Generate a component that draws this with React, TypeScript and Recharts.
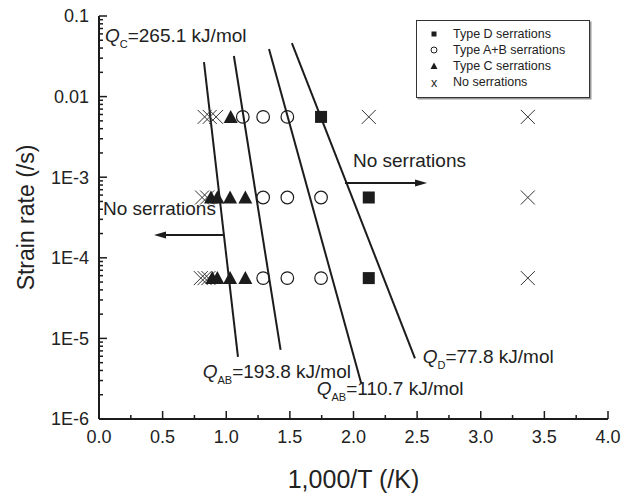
import { ScatterChart, Scatter, XAxis, YAxis, ReferenceLine, ReferenceDot, Legend } from 'recharts'

const FONT = '"Liberation Sans", Arial, Helvetica, sans-serif'
const INK = '#1c1c1c'

// tick marks
const xMajor = [0, 0.5, 1, 1.5, 2, 2.5, 3, 3.5, 4]
const xLabels = ['0.0', '0.5', '1.0', '1.5', '2.0', '2.5', '3.0', '3.5', '4.0']
const xMinor = [0.25, 0.75, 1.25, 1.75, 2.25, 2.75, 3.25, 3.75]
const yMajor = [1e-6, 1e-5, 1e-4, 1e-3, 1e-2, 1e-1]
const yLabels = ['1E-6', '1E-5', '1E-4', '1E-3', '0.01', '0.1']

// measured points: x = 1000/T, y = strain rate
const typeD = [
  { x: 1.745, y: 5.6e-3 },
  { x: 2.12, y: 5.6e-4 },
  { x: 2.12, y: 5.6e-5 },
]
const typeAB = [
  { x: 1.13, y: 5.6e-3 }, { x: 1.29, y: 5.6e-3 }, { x: 1.48, y: 5.6e-3 },
  { x: 1.29, y: 5.6e-4 }, { x: 1.48, y: 5.6e-4 }, { x: 1.745, y: 5.6e-4 },
  { x: 1.29, y: 5.6e-5 }, { x: 1.48, y: 5.6e-5 }, { x: 1.745, y: 5.6e-5 },
]
const typeC = [
  { x: 1.035, y: 5.6e-3 },
  { x: 0.88, y: 5.6e-4 }, { x: 0.93, y: 5.6e-4 }, { x: 1.03, y: 5.6e-4 }, { x: 1.15, y: 5.6e-4 },
  { x: 0.89, y: 5.6e-5 }, { x: 0.93, y: 5.6e-5 }, { x: 1.03, y: 5.6e-5 }, { x: 1.15, y: 5.6e-5 },
]
const noSerr = [
  { x: 0.83, y: 5.6e-3 }, { x: 0.87, y: 5.6e-3 }, { x: 0.92, y: 5.6e-3 },
  { x: 2.12, y: 5.6e-3 }, { x: 3.37, y: 5.6e-3 },
  { x: 0.81, y: 5.6e-4 }, { x: 0.85, y: 5.6e-4 }, { x: 3.37, y: 5.6e-4 },
  { x: 0.8, y: 5.6e-5 }, { x: 0.83, y: 5.6e-5 }, { x: 0.86, y: 5.6e-5 }, { x: 3.37, y: 5.6e-5 },
]

// Arrhenius boundaries
const qLines = [
  [{ x: 0.825, y: 2.68e-2 }, { x: 1.092, y: 5.9e-6 }],
  [{ x: 1.06, y: 3.19e-2 }, { x: 1.427, y: 7.2e-6 }],
  [{ x: 1.336, y: 3.89e-2 }, { x: 2.06, y: 2.8e-6 }],
  [{ x: 1.516, y: 4.62e-2 }, { x: 2.483, y: 5.66e-6 }],
]
const qLabels = [
  { x: 0.047, y: 4.76e-2, sub: 'C', text: '=265.1 kJ/mol' },
  { x: 0.815, y: 3.23e-6, sub: 'AB', text: '=193.8 kJ/mol' },
  { x: 1.711, y: 1.99e-6, sub: 'AB', text: '=110.7 kJ/mol' },
  { x: 2.544, y: 4.95e-6, sub: 'D', text: '=77.8 kJ/mol' },
]
const arrows = [
  { y: 8.47e-4, from: 1.933, to: 2.578 },
  { y: 1.92e-4, from: 0.974, to: 0.432 },
]
const regionLabels = [
  { x: 1.996, y: 1.34e-3, text: 'No serrations' },
  { x: 0.031, y: 3.4e-4, text: 'No serrations' },
]
const legendItems = [
  { key: 'D', label: 'Type D serrations' },
  { key: 'AB', label: 'Type A+B serrations' },
  { key: 'C', label: 'Type C serrations' },
  { key: 'none', label: 'No serrations' },
]

const xTicks = [...xMajor, ...xMinor].sort((a, b) => a - b)
const yTicks: number[] = []
yMajor.forEach((d, i) => {
  yTicks.push(d)
  if (i < yMajor.length - 1) for (let k = 2; k <= 9; k++) yTicks.push(d * k)
})

const isMajorY = (v: number) => {
  const l = Math.log10(v)
  return Math.abs(l - Math.round(l)) < 1e-9
}
const yLabel = (v: number) => yLabels[yMajor.findIndex((m) => Math.abs(Math.log10(m) - Math.log10(v)) < 1e-9)]
const xLabel = (v: number) => xLabels[xMajor.findIndex((m) => Math.abs(m - v) < 1e-9)]

function BottomTick({ x, y, payload }: any) {
  const lbl = xLabel(payload.value)
  return (
    <g>
      <line x1={x} y1={y} x2={x} y2={y - (lbl ? 8 : 4)} stroke={INK} strokeWidth={1.5} />
      {lbl && (
        <text x={x} y={y + 24} textAnchor="middle" fontSize={18} fill="#222" fontFamily={FONT}>
          {lbl}
        </text>
      )}
    </g>
  )
}

function TopTick({ x, y, payload }: any) {
  const major = xLabel(payload.value) != null
  return <line x1={x} y1={y} x2={x} y2={y + (major ? 4 : 2)} stroke={INK} strokeWidth={1} />
}

function LeftTick({ x, y, payload }: any) {
  const major = isMajorY(payload.value)
  return (
    <g>
      <line x1={x} y1={y} x2={x + (major ? 8 : 4)} y2={y} stroke={INK} strokeWidth={1.5} />
      {major && (
        <text x={x - 10} y={y} dy="0.36em" textAnchor="end" fontSize={18} fill="#222" fontFamily={FONT}>
          {yLabel(payload.value)}
        </text>
      )}
    </g>
  )
}

function RightTick({ x, y, payload }: any) {
  const major = isMajorY(payload.value)
  return <line x1={x} y1={y} x2={x + (major ? 4 : 3)} y2={y} stroke={INK} strokeWidth={1} />
}

const Square = ({ cx, cy }: any) => <rect x={cx - 6} y={cy - 6} width={12} height={12} fill={INK} />
const Ring = ({ cx, cy }: any) => <circle cx={cx} cy={cy} r={6.3} fill="none" stroke={INK} strokeWidth={1.2} />
const Tri = ({ cx, cy }: any) => (
  <polygon points={`${cx - 7},${cy + 6} ${cx + 7},${cy + 6} ${cx},${cy - 7}`} fill={INK} />
)
const Cross = ({ cx, cy }: any) => (
  <g stroke="#333" strokeWidth={1}>
    <line x1={cx - 7} y1={cy - 7} x2={cx + 7} y2={cy + 7} />
    <line x1={cx - 7} y1={cy + 7} x2={cx + 7} y2={cy - 7} />
  </g>
)

const Arrow = ({ x1, y1, x2, y2 }: any) => {
  const dir = x2 > x1 ? 1 : -1
  return (
    <g>
      <line x1={x1} y1={y1} x2={x2 - dir * 8} y2={y2} stroke={INK} strokeWidth={2} />
      <polygon points={`${x2},${y2} ${x2 - dir * 12},${y2 - 3.5} ${x2 - dir * 12},${y2 + 3.5}`} fill={INK} />
    </g>
  )
}

function LegendMarker({ kind }: { kind: string }) {
  if (kind === 'none')
    return (
      <text x={7} y={8} dy="0.36em" textAnchor="middle" fontSize={12.5} fontFamily={FONT} fill="#222">
        x
      </text>
    )
  return (
    <svg width={14} height={16} style={{ display: 'block' }}>
      {kind === 'D' && <rect x={4.5} y={5.5} width={5} height={5} fill={INK} />}
      {kind === 'AB' && <circle cx={7} cy={8} r={3} fill="none" stroke={INK} strokeWidth={1} />}
      {kind === 'C' && <polygon points="3.5,11 10.5,11 7,4.5" fill={INK} />}
    </svg>
  )
}

function LegendBox() {
  return (
    <div
      style={{
        width: 172,
        height: 71,
        border: '1px solid #333',
        boxShadow: '1.5px 1.5px 0 #999',
        background: '#fff',
        paddingTop: 5,
        boxSizing: 'content-box',
        fontFamily: FONT,
        fontSize: 12.5,
        color: '#222',
      }}
    >
      {legendItems.map((it) => (
        <div key={it.key} style={{ display: 'flex', alignItems: 'center', height: 16 }}>
          <div style={{ width: 14, marginLeft: 10, marginRight: 12 }}>
            {it.key === 'none' ? (
              <svg width={14} height={16} style={{ display: 'block' }}>
                <LegendMarker kind="none" />
              </svg>
            ) : (
              <LegendMarker kind={it.key} />
            )}
          </div>
          <span style={{ lineHeight: '16px' }}>{it.label}</span>
        </div>
      ))}
    </div>
  )
}

function QText({ cx, cy, sub, text }: any) {
  return (
    <text x={cx} y={cy} fontSize={19} fill="#222" fontFamily={FONT}>
      <tspan fontStyle="italic">Q</tspan>
      <tspan fontSize={11} dy={6}>{sub}</tspan>
      <tspan dy={-6}>{text}</tspan>
    </text>
  )
}

export default function App() {
  return (
    <div style={{ position: 'absolute', left: 0, top: 0, width: 622, height: 496, background: '#fff' }}>
      <ScatterChart width={622} height={496} margin={{ top: 16, right: 14, bottom: 0, left: 0 }}>
        <XAxis
          dataKey="x"
          type="number"
          domain={[0, 4]}
          ticks={xTicks}
          interval={0}
          allowDataOverflow
          height={77}
          tickSize={0}
          tickMargin={0}
          tickLine={false}
          axisLine={{ stroke: INK, strokeWidth: 2 }}
          tick={<BottomTick />}
          label={{
            content: ({ viewBox }: any) => (
              <text
                x={viewBox.x + viewBox.width / 2}
                y={viewBox.y + 69}
                textAnchor="middle"
                fontSize={25}
                fill="#222"
                fontFamily={FONT}
              >
                1,000/T (/K)
              </text>
            ),
          }}
        />
        <XAxis
          xAxisId="t"
          orientation="top"
          dataKey="x"
          type="number"
          domain={[0, 4]}
          ticks={xTicks}
          interval={0}
          allowDataOverflow
          height={0}
          tickSize={0}
          tickMargin={0}
          tickLine={false}
          axisLine={{ stroke: INK, strokeWidth: 1.5 }}
          tick={<TopTick />}
        />
        <YAxis
          dataKey="y"
          type="number"
          scale="log"
          domain={[1e-6, 0.1]}
          ticks={yTicks}
          interval={0}
          allowDataOverflow
          width={99}
          tickSize={0}
          tickMargin={0}
          tickLine={false}
          axisLine={{ stroke: INK, strokeWidth: 2 }}
          tick={<LeftTick />}
          label={{
            content: ({ viewBox }: any) => {
              const cx = viewBox.x + 26
              const cy = viewBox.y + viewBox.height / 2
              return (
                <text
                  x={cx}
                  y={cy}
                  dy="0.36em"
                  transform={`rotate(-90, ${cx}, ${cy})`}
                  textAnchor="middle"
                  fontSize={23}
                  fill="#222"
                  fontFamily={FONT}
                >
                  Strain rate (/s)
                </text>
              )
            },
          }}
        />
        <YAxis
          yAxisId="r"
          orientation="right"
          dataKey="y"
          type="number"
          scale="log"
          domain={[1e-6, 0.1]}
          ticks={yTicks}
          interval={0}
          allowDataOverflow
          width={0}
          tickSize={0}
          tickMargin={0}
          tickLine={false}
          axisLine={{ stroke: INK, strokeWidth: 2 }}
          tick={<RightTick />}
        />

        {qLines.map((seg, i) => (
          <ReferenceLine key={`q${i}`} segment={seg} stroke={INK} strokeWidth={2} ifOverflow="visible" />
        ))}
        {arrows.map((a, i) => (
          <ReferenceLine
            key={`a${i}`}
            segment={[{ x: a.from, y: a.y }, { x: a.to, y: a.y }]}
            ifOverflow="visible"
            shape={(p: any) => <Arrow {...p} />}
          />
        ))}

        <Scatter name="No serrations" data={noSerr} shape={Cross} isAnimationActive={false} />
        <Scatter name="Type C serrations" data={typeC} shape={Tri} isAnimationActive={false} />
        <Scatter name="Type A+B serrations" data={typeAB} shape={Ring} isAnimationActive={false} />
        <Scatter name="Type D serrations" data={typeD} shape={Square} isAnimationActive={false} />

        {qLabels.map((q, i) => (
          <ReferenceDot
            key={`ql${i}`}
            x={q.x}
            y={q.y}
            r={0}
            ifOverflow="visible"
            shape={(p: any) => <QText cx={p.cx} cy={p.cy} sub={q.sub} text={q.text} />}
          />
        ))}
        {regionLabels.map((r, i) => (
          <ReferenceDot
            key={`rl${i}`}
            x={r.x}
            y={r.y}
            r={0}
            ifOverflow="visible"
            shape={(p: any) => (
              <text x={p.cx} y={p.cy} fontSize={19} fill="#222" fontFamily={FONT}>
                {r.text}
              </text>
            )}
          />
        ))}

        <Legend
          layout="vertical"
          align="center"
          verticalAlign="middle"
          content={() => <LegendBox />}
          wrapperStyle={{ left: 416, top: 20, width: 174, height: 78 }}
        />
      </ScatterChart>
    </div>
  )
}
